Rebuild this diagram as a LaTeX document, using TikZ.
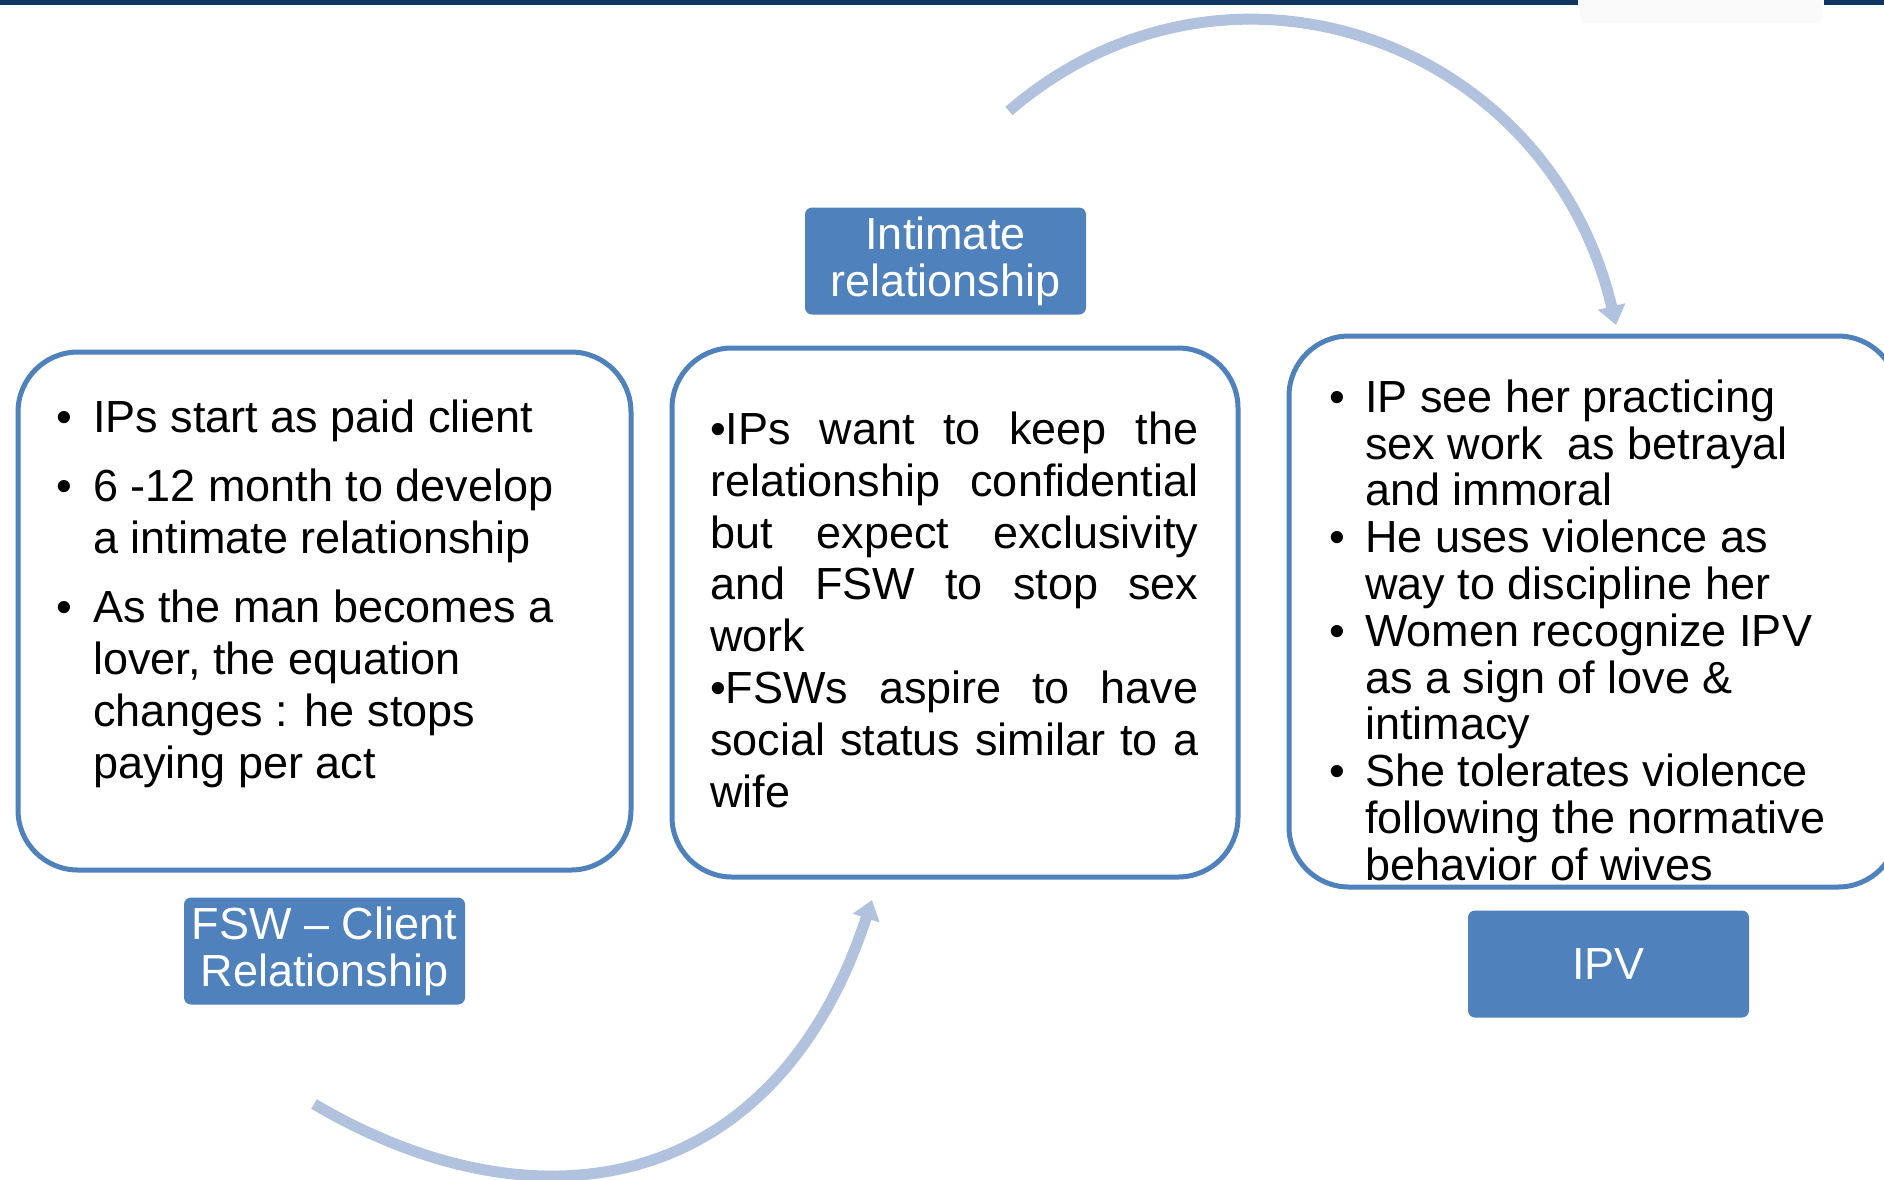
\documentclass[tikz,border=0pt]{standalone}
\usepackage{fontspec}
\setmainfont{Liberation Sans}
\usetikzlibrary{arrows.meta}
\definecolor{accent}{RGB}{79,129,189}
\definecolor{arrowc}{RGB}{176,194,221}
\definecolor{navy}{RGB}{17,54,98}
\begin{document}
\begin{tikzpicture}[x=1pt,y=-1pt,
  panel/.style={draw=accent, line width=5pt, rounded corners=60pt, fill=white, inner sep=0pt},
  lab/.style={fill=accent, text=white, rounded corners=7pt, minimum width=281pt, minimum height=107pt,
    align=center, inner sep=0pt, font=\fontsize{45}{47}\selectfont},
  txt/.style={inner sep=0pt, anchor=north west, align=left},
  flow/.style={draw=arrowc, line width=11pt, -{Triangle[width=27pt,length=19pt]}}]
\useasboundingbox (0,0) rectangle (1884,1179);
\fill[white] (0,0) rectangle (1884,1179);
% top bar
\fill[navy] (0,0) rectangle (1578,5);
\fill[navy] (1824,0) rectangle (1884,5);
\fill[black!2] (1578,0) -- (1824,0) -- (1820,23) -- (1582,23) -- cycle;
% panels
\node[panel, minimum width=613pt, minimum height=518pt] (leftbox) at (324.5,611) {};
\node[panel, minimum width=566pt, minimum height=529pt] (midbox) at (955,612.5) {};
\node[panel, minimum width=609pt, minimum height=551pt] (rightbox) at (1593.5,611.5) {};
% texts
\node[txt, font=\fontsize{45}{52}\selectfont] (lefttext) at (56,392) {%
\rule{0pt}{40pt}\makebox[37pt][l]{•}IPs start as paid client\\[17pt]
\makebox[37pt][l]{•}6 -12 month to develop\\
\hspace*{37pt}a intimate relationship\\[17pt]
\makebox[37pt][l]{•}As the man becomes a\\
\hspace*{37pt}lover, the equation\\
\hspace*{37pt}changes : he stops\\
\hspace*{37pt}paying per act};
\node[txt, font=\fontsize{45}{51.9}\selectfont] (midtext) at (710,404) {%
\rule{0pt}{40pt}\makebox[488pt][s]{•IPs want to keep the}\\
\makebox[488pt][s]{relationship confidential}\\
\makebox[488pt][s]{but expect exclusivity}\\
\makebox[488pt][s]{and FSW to stop sex}\\
work\\
\makebox[488pt][s]{•FSWs aspire to have}\\
\makebox[488pt][s]{social status similar to a}\\
wife};
\node[txt, font=\fontsize{45}{46.8}\selectfont] (righttext) at (1329,372) {%
\rule{0pt}{40pt}\makebox[36pt][l]{•}IP see her practicing\\
\hspace*{36pt}sex work~ as betrayal\\
\hspace*{36pt}and immoral\\
\makebox[36pt][l]{•}He uses violence as\\
\hspace*{36pt}way to discipline her\\
\makebox[36pt][l]{•}Women recognize IPV\\
\hspace*{36pt}as a sign of love \&\\
\hspace*{36pt}intimacy\\
\makebox[36pt][l]{•}She tolerates violence\\
\hspace*{36pt}following the normative\\
\hspace*{36pt}behavior of wives};
% labels
\node[lab] (intimate) at (945.5,261) {Intimate\\relationship};
\node[lab] (fswlab) at (324.5,951) {FSW – Client\\Relationship};
\node[lab] (ipvlab) at (1608.5,964) {IPV};
% arrows
\coordinate (topS) at (1009,111);
\coordinate (topE) at (1616,325);
\draw[flow] (topS) .. controls (1224,-75) and (1548,37) .. (topE);
\coordinate (botS) at (314,1104);
\coordinate (botE) at (872,900);
\draw[flow] (botS) .. controls (538,1236) and (776,1194) .. (botE);
\end{tikzpicture}
\end{document}
